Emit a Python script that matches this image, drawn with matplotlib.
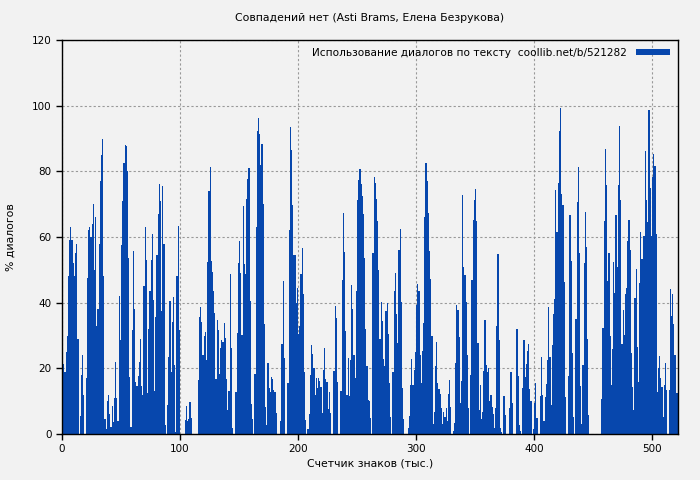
import numpy as np
from matplotlib import pyplot as plt

# % диалогов по каждой тысяче знаков, прочитано с картинки кусками
part_0 = [13.4, 21.3, 19, 25, 30, 48, 59, 63, 59, 52,
          48, 55, 58, 29, 0, 5.5, 18, 24, 12, 0,
          17, 47.5, 62, 63, 60, 64, 70, 50, 66, 33,
          38, 58, 77, 85, 90, 48, 4.6, 1.5, 10, 12,
          6, 2, 8.5, 3.7, 11, 22, 11, 4, 42, 28.6,
          57.5, 71, 82.5, 88, 87.7, 80, 53.6, 17.4, 2, 31.7,
          55.7, 38, 15.8, 14.6, 17.7, 22]
part_66 = [29, 14.6, 12, 45, 63, 53, 12.5, 32, 43.5, 53,
           61, 40.8, 13, 35.6, 54.5, 67, 76, 71, 37.5, 75.5,
           58, 2.7, 0, 8.8, 23.5, 40.5, 19, 34, 41.7, 21,
           0.6, 48, 63.4, 31.7, 0, 0, 0, 0, 4.3, 8.5,
           4, 4.5, 9.7, 5, 0, 0, 0, 0, 0, 16.4,
           35.6, 38.7, 34, 24, 29.8, 31, 22.5, 52.4, 74, 81.3,
           52.7, 49.3, 43.5, 36.9, 16.8]
part_131 = [34.7, 31.7, 18.3, 26.2, 28.6, 28, 33.8, 29.2, 16.8, 7.3,
            13, 48.7, 26.2, 1.8, 0, 0, 12.8, 30.8, 52, 58.8,
            49, 30.2, 69.4, 51.8, 48.7, 71.6, 77.7, 81, 40.5, 9.1,
            4.6, 0, 18.3, 63, 92.3, 96.2, 91.4, 82, 88.3, 70,
            33.5, 8.2, 2.7, 21.6, 14, 12.8, 17.4, 16.8, 13.4, 12.8,
            6.4, 0, 0, 0, 4, 27.4, 46.6, 23, 0, 0,
            15.5, 62, 93.5, 86.5, 69.7, 54.5]
part_197 = [54.5, 40, 44.5, 30.5, 33, 48.7, 56.6, 42.6, 18.9, 4.3,
            0, 1.5, 6, 18, 27, 24.4, 20, 12, 17, 14,
            17, 16, 14.3, 6.4, 19.5, 26.2, 16.8, 15.8, 7.6, 12.8,
            6.4, 0, 0, 19.2, 39, 35.3, 15.8, 0, 0, 13,
            46.9, 67.3, 55.4, 31.4, 12, 23, 11.6, 22.5, 45.4, 38,
            24, 17, 43.5, 71.3, 77.4, 80.7, 76, 72.5, 67, 53.6,
            32, 20.7, 10.4, 10, 4.9, 0]
part_263 = [55, 78.3, 76.4, 71.6, 64.9, 50, 29, 40.2, 34.4, 22.8,
            20.7, 37.5, 40, 30.5, 15.5, 5.2, 0, 18.9, 43.5, 49,
            36.5, 27.7, 56, 62.4, 40.2, 14, 4.6, 0, 0, 0,
            1.8, 5.5, 15, 22.8, 15, 19.5, 25, 39.3, 45.7, 43.5,
            24, 15.5, 25.3, 33.8, 66, 82.5, 77, 67.3, 55.7, 47.2,
            29.8, 3, 6.7, 20.7, 28, 15.5, 13.7, 12.2, 7.9, 3,
            6.7, 5.2, 7.9, 4, 12.2, 16.4]
part_329 = [8.2, 0, 1, 3.4, 21.6, 39.3, 37.8, 29.5, 9.4, 16,
            72.8, 51, 48.4, 40.2, 24, 7.9, 0, 18, 46.9, 65.2,
            71.3, 74.6, 64.9, 27.7, 7.3, 15, 4.6, 6.7, 19.2, 34.7,
            21, 18.9, 20, 10, 11.9, 8.2, 6, 1.8, 7.9, 33,
            54.8, 28.6, 1.8, 0.6, 0, 11.6, 5.8, 0, 0, 0,
            7.9, 18.9, 9.4, 0, 0, 0, 32, 17.7, 2.7, 1,
            0, 14, 28.6, 17.4, 21.3, 25.3]
part_395 = [27.4, 13.7, 10, 0, 1.5, 9.4, 15.5, 5, 0, 0,
            11.6, 23.5, 11.9, 4, 11.3, 15.2, 22.5, 38.7, 23.5, 8.8,
            27.1, 36.5, 41, 74.3, 61.5, 76.4, 92.3, 99.3, 73, 69.7,
            46.3, 11.3, 0, 0, 17.7, 66.7, 52.7, 24.7, 5.2, 0,
            35, 70.7, 81.3, 55, 14.6, 3, 21, 52, 67.6, 57,
            28.9, 5.8, 0, 0, 0, 0, 0, 0, 0, 0,
            0, 0, 10.7, 32.3, 64.9, 86.8]
part_461 = [75.8, 46.6, 55, 30, 15, 25.9, 52.4, 43, 66.7, 50.9,
            75.8, 93.8, 71.3, 27.4, 37.8, 30.2, 42.5, 44.5, 58.8, 65.2,
            56, 24.7, 14.3, 7.3, 41.4, 50.3, 26.5, 15.8, 46, 61.5,
            53.3, 60.3, 60.3, 86.2, 71.3, 64.6, 98.7, 75, 60.3, 78.3,
            85.3, 81.6, 61, 12.8, 20, 23.8, 17, 14.3, 5.2, 15,
            21.6, 13.4, 0, 13.4, 44.2, 36, 42.5, 33.5, 24, 12.5,
            12.5]

values = np.array(part_0 + part_66 + part_131 + part_197 + part_263
                  + part_329 + part_395 + part_461)
positions = np.arange(len(values))

title = "Совпадений нет (Asti Brams, Елена Безрукова)"
legend_label = "Использование диалогов по тексту  coollib.net/b/521282"

bg = '#f2f2f2'
plt.rcParams['font.family'] = ['DejaVu Sans']
plt.rcParams['font.size'] = 7.5

fig = plt.figure(figsize=(7, 4.8), dpi=100, facecolor=bg)
ax = fig.add_axes([62 / 700, 46 / 480, 616 / 700, 394 / 480], facecolor=bg)

ax.bar(positions, values, width=1.0, align='edge', color='#0747ad',
       linewidth=0, label=legend_label, zorder=2)

ax.set_xlim(0, len(values))
ax.set_ylim(0, 120)
ax.set_xticks(range(0, 501, 100))
ax.set_yticks(range(0, 121, 20))
ax.grid(True, color='#999999', linestyle=(0, (2, 2)), linewidth=0.8, zorder=1)
ax.set_axisbelow(True)
for s in ax.spines.values():
    s.set_linewidth(1.0)
    s.set_color('black')
ax.tick_params(length=4, width=1, colors='black')

ax.set_title(title, fontsize=7.8, pad=14)
ax.set_xlabel("Счетчик знаков (тыс.)", fontsize=7.8, labelpad=3)
ax.set_ylabel("% диалогов", fontsize=7.8, labelpad=12)

ax.legend(loc='upper right', frameon=False, markerfirst=False,
          fontsize=7.6, handlelength=3.2, handleheight=0.5,
          borderaxespad=0.35, handletextpad=0.9)

fig.savefig('out.png', dpi=100, facecolor=bg)
